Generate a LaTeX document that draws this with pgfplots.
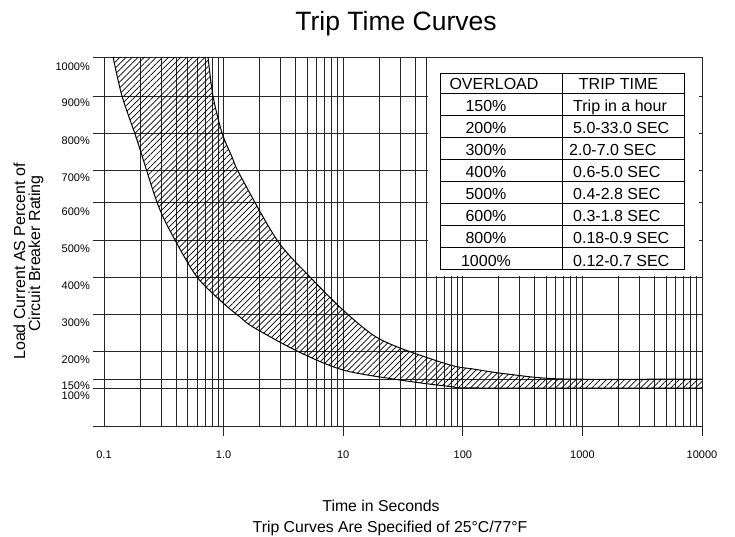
\documentclass[border=0pt]{standalone}
\usepackage{fontspec}
\setmainfont{Liberation Sans}
\usepackage{pgfplots}
\pgfplotsset{compat=1.18}
\usepgfplotslibrary{fillbetween}
\usetikzlibrary{patterns.meta}
\begin{document}
\begin{tikzpicture}[x=1pt,y=1pt]
\begin{axis}[
  name=main,
  at={(93pt,110pt)}, anchor=south west,
  scale only axis, width=609pt, height=369pt,
  xmode=log, log basis x=10,
  xmin=0.0809, xmax=10000, ymin=0, ymax=369,
  clip=false,
  axis x line*=bottom, axis y line*=left,
  x axis line style={draw=black!85, line width=0.9pt},
  y axis line style={draw=none},
  xtick={0.1,1,10,100,1000,10000},
  xticklabels={0.1,1.0,10,100,1000,10000},
  minor xtick={0.2,0.3,0.4,0.5,0.6,0.7,0.8,0.9,2,3,4,5,6,7,8,9,20,30,40,50,60,70,80,90,200,300,400,500,600,700,800,900,2000,3000,4000,5000,6000,7000,8000,9000},
  xmajorgrids, xminorgrids,
  major tick length=0pt, minor tick length=0pt,
  ytick={359,323,285,248,214,177,140,103,66,40,30},
  yticklabels={1000\%,900\%,800\%,700\%,600\%,500\%,400\%,300\%,200\%,150\%,100\%},
  ytick style={draw=none},
  extra y ticks={0,38,47,75,112,149,186,224,256,293,330,369},
  extra y tick labels={},
  extra y tick style={grid=major},
  grid style={black!85, line width=0.9pt},
  major grid style={black!85, line width=0.9pt},
  minor grid style={black!85, line width=0.9pt},
  xticklabel style={font=\fontsize{11}{13}\selectfont, anchor=center, yshift=-29pt},
  yticklabel style={font=\fontsize{11}{13}\selectfont, anchor=east, inner sep=0pt, xshift=-3pt},
]
\fill[white] (axis cs:51,150.5) rectangle (axis cs:9500,368.4);
\addplot[name path=up, black, line width=1pt, smooth, tension=0.5] coordinates {
(0.741,369) (0.815,330) (0.970,293) (1.176,269) (1.371,251) (2.796,186) (5.277,149) (9.96,116) (17.75,91) (29.85,78) (78.2,61) (121.7,57) (234.2,52) (688,47) (10000,47)};
\addplot[name path=lo, black, line width=1pt, smooth, tension=0.5] coordinates {
(0.119,369) (0.1414,330) (0.1888,286) (0.2829,221) (0.3923,186) (0.599,149) (0.989,123) (1.371,109) (1.762,99) (4.109,75) (9.96,56) (29.85,46) (78.2,39.5) (139,38) (10000,38)};
\addplot[pattern={Lines[angle=45,distance=4.3pt,line width=0.7pt]}, draw=none] fill between[of=up and lo];
\end{axis}
% decade tick marks below the axis line
\foreach \tx in {223.6,343.2,462.8,582.4,702}
  \draw[black!85, line width=1pt] (\tx,110) -- (\tx,100);
% table
\begin{scope}[line width=1pt]
\draw (440,462) rectangle (684,266.5);
\draw (562,462) -- (562,266.5);
\foreach \yy in {442.5,420.5,398.5,376.5,354.5,332.5,310.5,288.5}
  \draw (440,\yy) -- (684,\yy);
\end{scope}
\begin{scope}[every node/.style={inner sep=0pt, font=\fontsize{16}{19}\selectfont}]
\node[anchor=base] at (494,446) {OVERLOAD};
\node[anchor=base] at (618.5,446) {TRIP TIME};
\node[anchor=base] at (486,424) {150\%};
\node[anchor=base] at (486,402) {200\%};
\node[anchor=base] at (486,380) {300\%};
\node[anchor=base] at (486,358) {400\%};
\node[anchor=base] at (486,336) {500\%};
\node[anchor=base] at (486,314) {600\%};
\node[anchor=base] at (486,292) {800\%};
\node[anchor=base] at (486,270) {1000\%};
\node[anchor=base west] at (573,424) {Trip in a hour};
\node[anchor=base west] at (573,402) {5.0-33.0 SEC};
\node[anchor=base west] at (569,380) {2.0-7.0 SEC};
\node[anchor=base west] at (573,358) {0.6-5.0 SEC};
\node[anchor=base west] at (573,336) {0.4-2.8 SEC};
\node[anchor=base west] at (573,314) {0.3-1.8 SEC};
\node[anchor=base west] at (573,292) {0.18-0.9 SEC};
\node[anchor=base west] at (573,270) {0.12-0.7 SEC};
\end{scope}
% titles and labels
\node[anchor=base, inner sep=0pt, font=\fontsize{26.5}{30}\selectfont] at (396,505) {Trip Time Curves};
\node[anchor=base, inner sep=0pt, font=\fontsize{15.8}{18}\selectfont] at (381,25) {Time in Seconds};
\node[anchor=base, inner sep=0pt, font=\fontsize{15.8}{18}\selectfont] at (390,4) {Trip Curves Are Specified of 25°C/77°F};
\node[anchor=base, rotate=90, inner sep=0pt, font=\fontsize{16}{18}\selectfont] at (25,274.5) {Load Current AS Percent of};
\node[anchor=base, rotate=90, inner sep=0pt, font=\fontsize{16}{18}\selectfont] at (40,282.5) {Circuit Breaker Rating};
\pgfresetboundingbox
\useasboundingbox (0,0) rectangle (735,536);
\end{tikzpicture}
\end{document}
